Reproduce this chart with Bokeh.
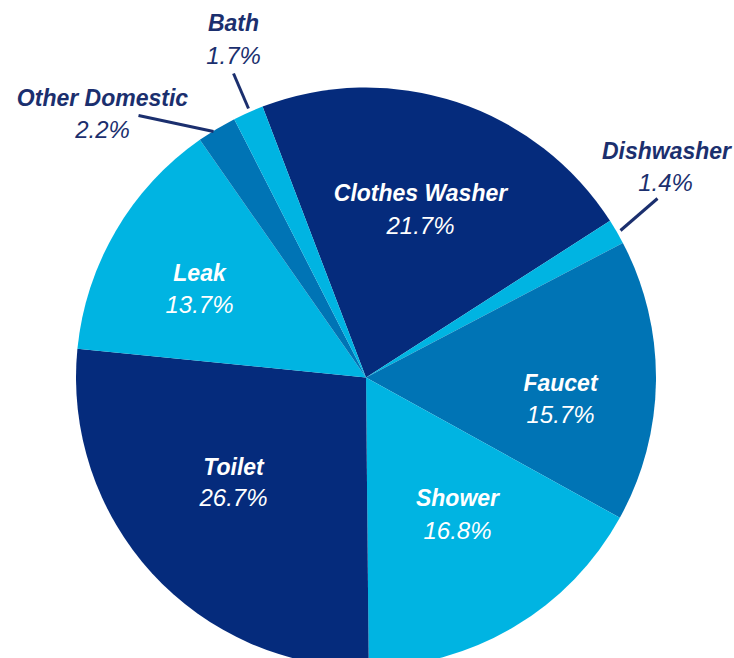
import numpy as np
from bokeh.plotting import figure
from bokeh.models import ColumnDataSource, Range1d
from bokeh.core.properties import value
from bokeh.embed import file_html
from bokeh.resources import INLINE

# ---- data ----
categories = ["Clothes Washer", "Dishwasher", "Faucet", "Shower", "Toilet",
              "Leak", "Other Domestic", "Bath"]
percents = [21.7, 1.4, 15.7, 16.8, 26.7, 13.7, 2.2, 1.7]

# ---- styles / layout ----
NAVY = "#052b7c"
CYAN = "#00b4e2"
MID = "#0074b5"
colors = [NAVY, CYAN, MID, CYAN, NAVY, CYAN, MID, CYAN]
LABEL_DARK = "#1b2f6e"

W, H = 734, 658
def px(x):
    return x
def py(y):
    return H - y

CX, CY, R = px(365.5), py(377), 290
START = -20.9  # clockwise degrees from 12 o'clock where first slice begins

# label layout (page pixel coords): name center, pct center, colour
label_pos = {
    "Clothes Washer": ((420, 192), (420, 225), "white"),
    "Dishwasher": ((666, 150), (665, 182), LABEL_DARK),
    "Faucet": ((560, 382), (560, 414), "white"),
    "Shower": ((457, 497), (457, 530), "white"),
    "Toilet": ((233, 466), (233, 497), "white"),
    "Leak": ((199, 272), (199, 304), "white"),
    "Other Domestic": ((102, 97), (102, 129), LABEL_DARK),
    "Bath": ((233, 22), (233, 55), LABEL_DARK),
}
leaders = {
    "Dishwasher": ((657, 198), (620, 230)),
    "Other Domestic": ((138, 115), (213, 131)),
    "Bath": ((233, 73), (248, 108)),
}

total = sum(percents)
frac = np.array(percents) / total
cum = np.concatenate([[0], np.cumsum(frac)])
theta_s = START + cum[:-1] * 360
theta_e = START + cum[1:] * 360
start_m = np.radians(90 - theta_e)
end_m = np.radians(90 - theta_s)

src = ColumnDataSource(dict(start=start_m, end=end_m, color=colors))

p = figure(width=W, height=H, output_backend="svg", toolbar_location=None,
           x_range=Range1d(0, W), y_range=Range1d(0, H), min_border=0)
p.axis.visible = False
p.grid.visible = False
p.outline_line_color = None
p.background_fill_color = "white"
p.border_fill_color = "white"

p.wedge(x=CX, y=CY, radius=R, start_angle="start", end_angle="end",
        direction="anticlock", fill_color="color", line_color=None, source=src)

# leader lines
for k, ((x0, y0), (x1, y1)) in leaders.items():
    p.line([px(x0), px(x1)], [py(y0), py(y1)], line_color=LABEL_DARK, line_width=3)

names_x, names_y, pct_x, pct_y, cols, ptxt = [], [], [], [], [], []
for c, v in zip(categories, percents):
    (nx, ny), (qx, qy), col = label_pos[c]
    names_x.append(px(nx)); names_y.append(py(ny))
    pct_x.append(px(qx)); pct_y.append(py(qy))
    cols.append(col); ptxt.append(f"{v:.1f}%")

lsrc = ColumnDataSource(dict(nx=names_x, ny=names_y, qx=pct_x, qy=pct_y,
                             name=categories, pct=ptxt, col=cols))
p.text(x="nx", y="ny", text="name", source=lsrc, text_color="col",
       text_font=value("Liberation Sans"), text_font_style="bold italic",
       text_font_size="23px", text_align="center", text_baseline="middle")
p.text(x="qx", y="qy", text="pct", source=lsrc, text_color="col",
       text_font=value("Liberation Sans"), text_font_style="italic",
       text_font_size="24px", text_align="center", text_baseline="middle")

open("out.html", "w").write(file_html(p, INLINE))
